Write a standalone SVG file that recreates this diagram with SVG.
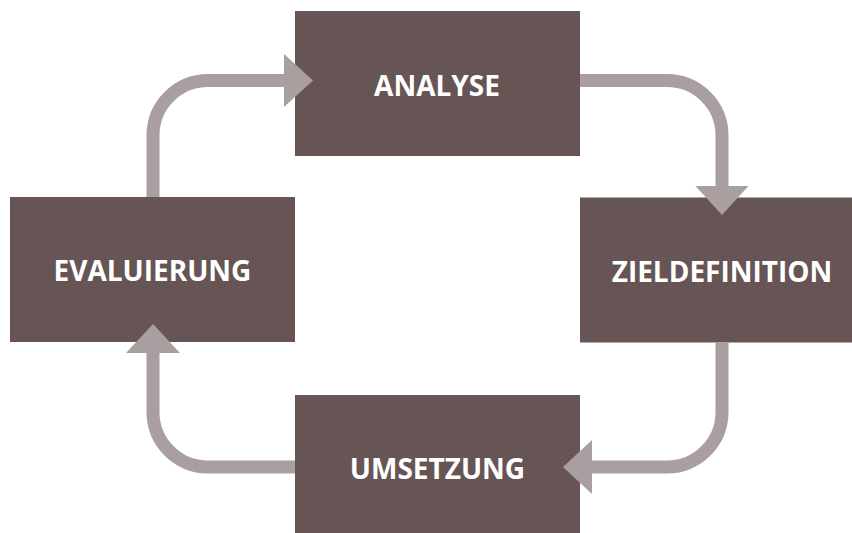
<svg xmlns="http://www.w3.org/2000/svg" width="852" height="533" viewBox="0 0 852 533">
<style>
.box{fill:#675556}
.lbl{fill:#ffffff;font-family:"Open Sans","Noto Sans","Liberation Sans",sans-serif;font-weight:700;font-size:28px;text-anchor:middle}
.conn{fill:none;stroke:#aa9fa0;stroke-width:13}
.head{fill:#aa9fa0}
</style>
<rect width="852" height="533" fill="#ffffff"/>
<g id="node-analyse">
<rect class="box" x="295" y="11" width="285" height="145"/>
<text class="lbl" x="437" y="95.5">ANALYSE</text>
</g>
<g id="node-zieldefinition">
<rect class="box" x="580" y="197.5" width="285" height="145"/>
<text class="lbl" x="722" y="281.5">ZIELDEFINITION</text>
</g>
<g id="node-umsetzung">
<rect class="box" x="295" y="395" width="285" height="145"/>
<text class="lbl" x="437.5" y="479.3">UMSETZUNG</text>
</g>
<g id="node-evaluierung">
<rect class="box" x="10" y="197" width="285" height="145"/>
<text class="lbl" x="152.5" y="281">EVALUIERUNG</text>
</g>
<g id="connectors">
<path class="conn" d="M153,197 V135.5 A55,55 0 0 1 208,80.5 H285"/>
<polygon class="head" points="284,54 313,80.5 284,107"/>
<path class="conn" d="M580,80.5 H667 A55,55 0 0 1 722,135.5 V187"/>
<polygon class="head" points="695.5,186 722,215 748.5,186"/>
<path class="conn" d="M722,342.5 V412 A55,55 0 0 1 667,467 H591"/>
<polygon class="head" points="592,440 563,467 592,494"/>
<path class="conn" d="M295,467 H208 A55,55 0 0 1 153,412 V352"/>
<polygon class="head" points="126,353 153,324 180,353"/>
</g>
</svg>
